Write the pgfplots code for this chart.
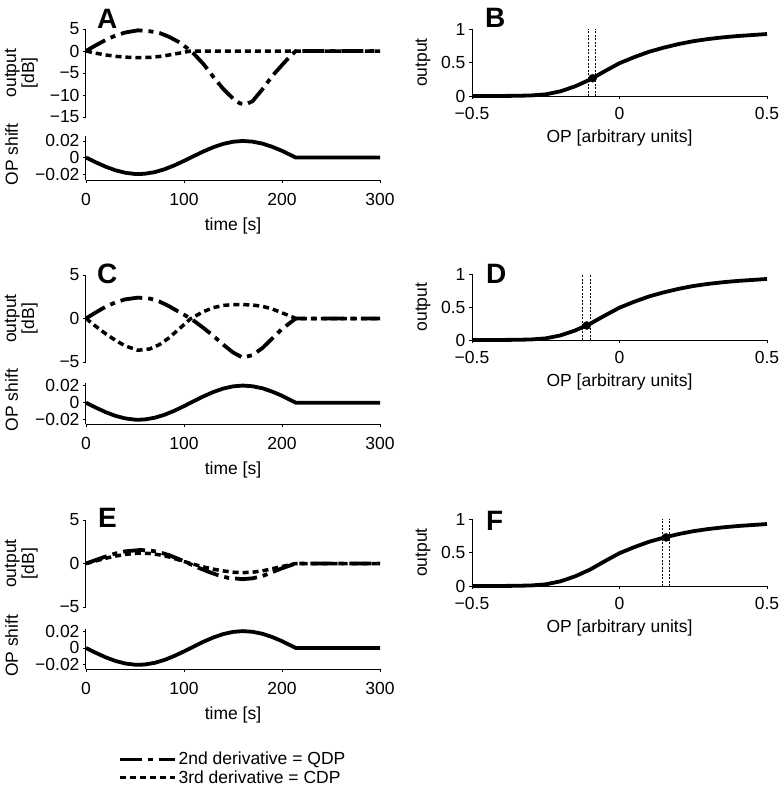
\documentclass[border=0pt]{standalone}
\usepackage{fontspec}
\setmainfont{Liberation Sans}
\usepackage{pgfplots}
\pgfplotsset{compat=1.18}
\newcommand{\fs}{\fontsize{17.5}{19}\selectfont}
\pgfplotsset{
  base/.style={scale only axis, clip=false, anchor=south west,
    tick label style={font=\fs}, label style={font=\fs},
    tick align=outside, major tick length=3pt,
    every tick/.style={black, line width=0.9pt},
    axis line style={-, line width=1pt},
    scaled ticks=false,
    xmin=0, xmax=300},
  outp/.style={base, width=294pt, height=87pt, axis x line=none, axis y line*=left, xtick=\empty,
    ylabel style={align=center, at={(axis description cs:-0.22,0.5)}, anchor=center, font=\fontsize{17.5}{18}\selectfont},
    ylabel={output\\{[dB]}}},
  opax/.style={base, width=294pt, axis x line*=bottom, axis y line*=left,
    xtick={0,100,200,300}, xticklabels={0,100,200,300},
    xticklabel style={yshift=-7pt},
    ytick={-0.02,0,0.02}, yticklabels={−0.02,0,0.02},
    ylabel={OP shift}, xlabel={time [s]},
    ylabel style={at={(axis description cs:-0.253,0.58)}, anchor=center},
    xlabel style={at={(axis description cs:0.5,0)}, anchor=center, yshift=-46pt}},
  sig/.style={base, width=295pt, height=67pt, axis x line*=bottom, axis y line*=left,
    xmin=-0.5, xmax=0.5, ymin=0, ymax=1,
    xtick={-0.5,0,0.5}, xticklabels={−0.5,0,0.5},
    ytick={0,0.5,1}, yticklabels={0,0.5,1},
    ylabel={output}, xlabel={OP [arbitrary units]},
    ylabel style={at={(axis description cs:-0.166,0.5)}, anchor=center},
    xlabel style={at={(axis description cs:0.5,0)}, anchor=center, yshift=-42pt}},
  qdp/.style={black, line width=3.8pt, dash pattern=on 22pt off 6pt on 5pt off 6pt},
  cdp/.style={black, line width=3.5pt, dash pattern=on 6pt off 4pt},
  opl/.style={black, line width=3.8pt},
  sigl/.style={black, line width=3.8pt},
  vl/.style={black, line width=0.9pt, dash pattern=on 2pt off 1.5pt},
  dot/.style={only marks, mark=*, mark size=4pt, black},
}
\pgfplotstableread{
x y
-0.5 0
-0.4 0.001
-0.35 0.003
-0.3 0.008
-0.25 0.025
-0.2 0.07
-0.15 0.145
-0.1 0.245
-0.05 0.37
0 0.49
0.05 0.58
0.1 0.66
0.15 0.722
0.2 0.775
0.25 0.818
0.3 0.85
0.35 0.875
0.4 0.895
0.45 0.91
0.5 0.925
}\sigtab
\pgfplotstableread{
t s
0 0
10 -0.00579
20 -0.01108
30 -0.01542
40 -0.01844
50 -0.01989
53.5 -0.02
60 -0.01964
70 -0.0177
80 -0.01425
90 -0.00957
100 -0.00409
107 0
110 0.00176
120 0.00743
130 0.01248
140 0.01648
150 0.01907
160 0.02
170 0.01919
180 0.01681
190 0.01297
200 0.00807
214 0
300 0
}\optab
\begin{document}
\begin{tikzpicture}
\useasboundingbox (0,0) rectangle (780pt,-788pt);
% ---------- A ----------
\begin{axis}[outp, at={(86pt,-117pt)}, height=88pt, ymin=-15, ymax=5, ytick={-15,-10,-5,0,5}, yticklabels={−15,−10,−5,0,5}]
\addplot[qdp] coordinates {(0,0) (10,1.3) (20,2.5) (30,3.5) (40,4.2) (53,4.7) (65,4.5) (75,4.1) (85,3.2) (95,2.0) (103,0.7) (110,-0.6) (120,-3.0) (130,-5.9) (140,-8.6) (150,-10.8) (157,-11.9) (163,-12.1) (170,-11.4) (180,-8.7) (190,-5.7) (200,-3.2) (207,-1.5) (214,0) (300,0)};
\addplot[cdp] coordinates {(0,0) (10,-0.5) (20,-0.9) (30,-1.2) (40,-1.4) (53,-1.5) (65,-1.45) (75,-1.25) (85,-0.9) (95,-0.5) (107,0) (214,0) (300,0)};
\end{axis}
\begin{axis}[opax, at={(86pt,-180pt)}, height=44pt, ymin=-0.0272, ymax=0.026]
\addplot[opl] table[x=t,y=s] {\optab};
\end{axis}
% ---------- C ----------
\begin{axis}[outp, at={(86pt,-362pt)}, ymin=-5, ymax=5, ytick={-5,0,5}, yticklabels={−5,0,5}]
\addplot[qdp] coordinates {(0,0) (10,0.7) (20,1.35) (30,1.85) (40,2.2) (53,2.4) (65,2.3) (75,1.95) (85,1.4) (95,0.75) (107,0) (120,-1.1) (130,-2.0) (140,-3.0) (150,-3.9) (160,-4.5) (170,-4.2) (180,-3.4) (190,-2.3) (200,-1.2) (214,0) (300,0)};
\addplot[cdp] coordinates {(0,0) (10,-0.9) (20,-1.75) (30,-2.5) (40,-3.15) (53,-3.65) (65,-3.5) (75,-3.0) (85,-2.2) (95,-1.2) (107,0) (120,0.8) (130,1.25) (140,1.5) (150,1.6) (160,1.6) (170,1.55) (180,1.4) (190,1.1) (200,0.65) (210,0.2) (214,0) (300,0)};
\end{axis}
\begin{axis}[opax, at={(86pt,-424pt)}, height=41pt, ymin=-0.025, ymax=0.023]
\addplot[opl] table[x=t,y=s] {\optab};
\end{axis}
% ---------- E ----------
\begin{axis}[outp, at={(86pt,-607pt)}, ymin=-5, ymax=5, ytick={-5,0,5}, yticklabels={−5,0,5}]
\addplot[qdp] coordinates {(0,0) (10,0.4) (20,0.8) (30,1.15) (40,1.4) (55,1.55) (65,1.5) (75,1.3) (85,0.95) (95,0.5) (105,0) (115,-0.5) (125,-0.95) (135,-1.35) (145,-1.65) (160,-1.8) (170,-1.7) (180,-1.45) (190,-1.0) (200,-0.55) (214,0) (300,0)};
\addplot[cdp] coordinates {(0,0) (10,0.3) (20,0.6) (30,0.85) (40,1.05) (55,1.2) (65,1.15) (75,1.0) (85,0.75) (95,0.4) (107,0) (120,-0.4) (130,-0.65) (140,-0.85) (150,-1.0) (160,-1.05) (170,-1.0) (180,-0.85) (190,-0.6) (200,-0.35) (214,0) (300,0)};
\end{axis}
\begin{axis}[opax, at={(86pt,-669pt)}, height=40pt, ymin=-0.025, ymax=0.0225,
  legend style={at={(axis description cs:0.109,-2.04)}, anchor=north west, draw=none, fill=none,
    inner sep=0pt, row sep=1pt, font=\fs, nodes={inner sep=1.5pt}},
  legend cell align=left,
  legend image code/.code={\draw[#1] (0pt,0pt) -- (55pt,0pt);}]
\addplot[opl, forget plot] table[x=t,y=s] {\optab};
\addlegendimage{qdp}\addlegendentry{2nd derivative = QDP}
\addlegendimage{cdp}\addlegendentry{3rd derivative = CDP}
\end{axis}
% ---------- B ----------
\begin{axis}[sig, at={(472pt,-96pt)}, xticklabel style={yshift=-4.5pt}]
\addplot[vl] coordinates {(-0.104,0) (-0.104,1)};
\addplot[vl] coordinates {(-0.080,0) (-0.080,1)};
\addplot[sigl] table[x=x,y=y] {\sigtab};
\addplot[dot] coordinates {(-0.091,0.265)};
\end{axis}
% ---------- D ----------
\begin{axis}[sig, at={(472pt,-340pt)}, height=66pt, xticklabel style={yshift=-4.5pt}]
\addplot[vl] coordinates {(-0.124,0) (-0.124,1)};
\addplot[vl] coordinates {(-0.100,0) (-0.100,1)};
\addplot[sigl] table[x=x,y=y] {\sigtab};
\addplot[dot] coordinates {(-0.111,0.22)};
\end{axis}
% ---------- F ----------
\begin{axis}[sig, at={(472pt,-586pt)}, xticklabel style={yshift=-4.5pt}]
\addplot[vl] coordinates {(0.146,0) (0.146,1)};
\addplot[vl] coordinates {(0.169,0) (0.169,1)};
\addplot[sigl] table[x=x,y=y] {\sigtab};
\addplot[dot] coordinates {(0.158,0.725)};
\end{axis}
% panel letters
\begin{scope}[every node/.style={anchor=base west, inner sep=0pt, font=\fontsize{28}{28}\selectfont\bfseries}]
\node at (97pt,-28pt) {A};
\node at (485pt,-27pt) {B};
\node at (97pt,-283pt) {C};
\node at (486pt,-283pt) {D};
\node at (98pt,-527pt) {E};
\node at (486pt,-530pt) {F};
\end{scope}
\end{tikzpicture}
\end{document}
